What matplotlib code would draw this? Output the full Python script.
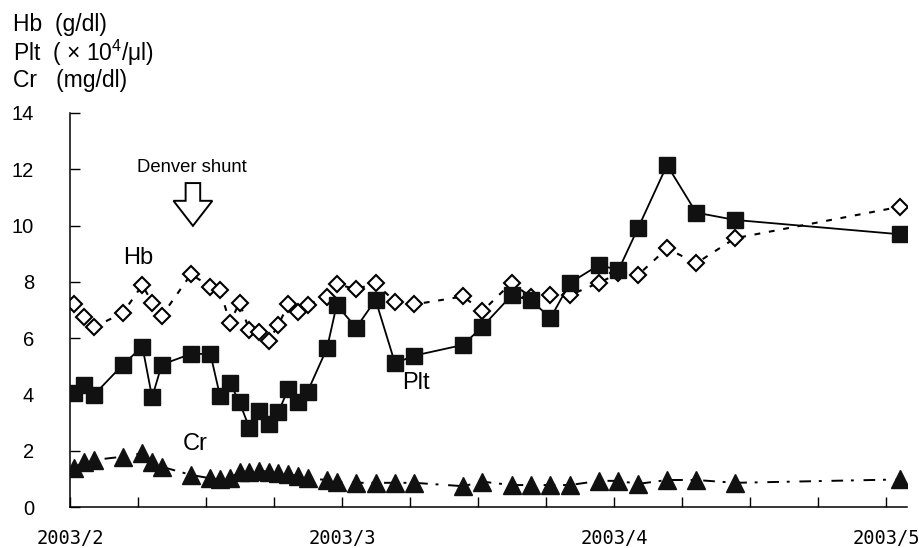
import numpy as np
import matplotlib
matplotlib.use('Agg')
import matplotlib.pyplot as plt
from matplotlib.patches import FancyArrow

plt.rcParams['font.family'] = ['Liberation Sans', 'DejaVu Sans']
plt.rcParams['mathtext.fontset'] = 'custom'
plt.rcParams['mathtext.rm'] = 'Liberation Sans'
plt.rcParams['mathtext.it'] = 'Liberation Sans:italic'

# days after 2003/2/1
days = [0, 1, 2, 5, 7, 8, 9, 12, 14, 15, 16, 17, 18, 19, 20, 21, 22, 23, 24,
        26, 27, 29, 31, 33, 35, 40, 42, 45, 47, 49, 51, 54, 56, 58, 61, 64, 68, 85]

hb = [7.21, 6.76, 6.39, 6.90, 7.89, 7.26, 6.79, 8.27, 7.83, 7.71, 6.55, 7.26,
      6.29, 6.23, 5.91, 6.47, 7.20, 6.92, 7.19, 7.47, 7.92, 7.74, 7.95, 7.30,
      7.20, 7.48, 6.96, 7.97, 7.45, 7.52, 7.53, 7.97, 8.30, 8.24, 9.19, 8.66,
      9.55, 10.67]

plt_ = [4.05, 4.34, 3.98, 5.06, 5.70, 3.90, 5.06, 5.44, 5.44, 3.93, 4.42, 3.72,
        2.82, 3.42, 2.95, 3.38, 4.18, 3.74, 4.10, 5.64, 7.18, 6.37, 7.36, 5.11,
        5.38, 5.76, 6.41, 7.52, 7.35, 6.71, 7.96, 8.60, 8.42, 9.90, 12.15, 10.46,
        10.20, 9.69]

cr = [1.40, 1.61, 1.67, 1.79, 1.91, 1.61, 1.43, 1.14, 1.02, 0.98, 1.02, 1.25,
      1.25, 1.29, 1.25, 1.22, 1.17, 1.10, 1.02, 0.96, 0.90, 0.86, 0.86, 0.86,
      0.86, 0.74, 0.90, 0.78, 0.78, 0.78, 0.78, 0.93, 0.93, 0.82, 0.96, 0.96,
      0.86, 0.98]

month_labels = ['2003/2', '2003/3', '2003/4', '2003/5']

fig = plt.figure(figsize=(9.2, 5.48), dpi=100)
ax = fig.add_axes([0.0761, 0.0748, 0.9098, 0.719])

# Hb: open diamonds, dashed
ax.plot(days, hb, color='black', lw=1.5, linestyle=(0, (2.8, 4.2)),
        marker='D', ms=8.2, mfc='white', mec='black', mew=1.5, zorder=2)
# Plt: filled squares, solid
ax.plot(days, plt_, color='black', lw=1.3, linestyle='-',
        marker='s', ms=11.2, mfc='#111111', mec='#111111', zorder=3)
# Cr: filled triangles, dash-dot
ax.plot(days, cr, color='black', lw=1.4, linestyle=(0, (6, 4, 1.5, 5)),
        marker='^', ms=12.5, mfc='#111111', mec='#111111', zorder=4)

ax.set_ylim(0, 14)
ax.set_yticks(np.arange(0, 15, 2))
ax.set_xlim(-0.45, 85.7)
ticks = np.arange(13) * 7 - 0.45
ax.set_xticks(ticks)
labels = [''] * 13
for i, lab in enumerate(month_labels):
    labels[i * 4] = lab
ax.set_xticklabels(labels, family='DejaVu Sans Mono', fontsize=13.5)

ax.spines['top'].set_visible(False)
ax.spines['right'].set_visible(False)
for s in ['left', 'bottom']:
    ax.spines[s].set_linewidth(1.1)
ax.tick_params(axis='y', direction='in', length=7, width=1.0, pad=26, labelsize=14.5)
ax.tick_params(axis='x', direction='in', length=7, width=1.0, pad=16)

# series labels
ax.text(6.55, 8.85, 'Hb', fontsize=17, ha='center', va='center')
ax.text(35.2, 4.41, 'Plt', fontsize=17, ha='center', va='center')
ax.text(12.4, 2.24, 'Cr', fontsize=17, ha='center', va='center')

# Denver shunt marker
ax.text(12.1, 12.05, 'Denver shunt', fontsize=13.3, ha='center', va='center')
ax.add_patch(FancyArrow(12.2, 11.51, 0, -1.52, width=1.5, head_width=4.0,
                        head_length=0.89, length_includes_head=True,
                        fc='white', ec='black', lw=1.4, zorder=5))

# unit labels top-left
fig.text(13 / 920, 1 - 25 / 548, 'Hb  (g/dl)', fontsize=16.5, va='center')
fig.text(13 / 920, 1 - 53 / 548, 'Plt  ( × 10$^4$/μl)', fontsize=16.5, va='center')
fig.text(13 / 920, 1 - 81 / 548, 'Cr   (mg/dl)', fontsize=16.5, va='center')

fig.savefig('out.png', dpi=100)
